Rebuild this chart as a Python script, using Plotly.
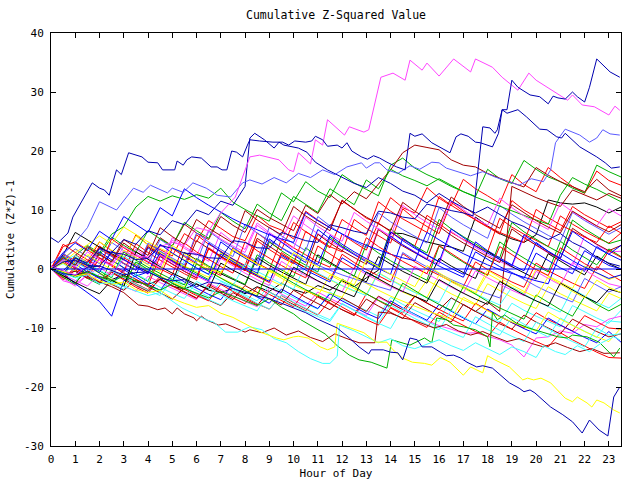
import plotly.graph_objects as go

# ---------------- data ----------------
HOURS = [0, 0.5, 1, 1.5, 2, 2.5, 3, 3.5, 4, 4.5, 5, 5.5, 6, 6.5, 7, 7.5,
         8, 8.5, 9, 9.5, 10, 10.5, 11, 11.5, 12, 12.5, 13, 13.5, 14, 14.5, 15, 15.5,
         16, 16.5, 17, 17.5, 18, 18.5, 19, 19.5, 20, 20.5, 21, 21.5, 22, 22.5, 23, 23.5]

X_TICKS = list(range(0, 24))
Y_TICKS = [-30, -20, -10, 0, 10, 20, 30, 40]

COL = {
    "red": "#ff0000", "green": "#00b000", "blue": "#0000ff", "magenta": "#ff44ff",
    "cyan": "#44ffff", "yellow": "#ffff00", "black": "#000000", "darkred": "#a00000",
    "darkblue": "#0000b0", "lightblue": "#5a5aff",
}

# half-hourly series (values at HOURS)
S01 = [0, 2.6, 1.4, 0.5, 3.9, 2.4, 1.6, 5.8, 4.1, 3.3, 2.2, 6.0, 4.6, 8.2, 6.9, 5.5,
       4.8, 9.1, 7.4, 6.6, 5.1, 9.8, 8.3, 7.0, 11.5, 10.2, 8.6, 7.8, 12.1, 10.4, 9.5, 13.8,
       12.0, 10.7, 15.2, 13.6, 12.4, 11.1, 16.0, 14.3, 13.1, 17.2, 15.5, 14.0, 12.8, 16.6, 15.0, 14.2]
S02 = [0, -1.2, 2.3, 4.0, 2.7, 5.9, 7.2, 10.5, 12.3, 11.5, 12.4, 11.8, 12.6, 12.0, 13.7, 11.3,
       10.1, 9.0, 8.1, 12.9, 11.4, 14.8, 13.2, 12.1, 16.0, 14.6, 13.5, 12.4, 17.6, 18.8, 17.1, 16.0,
       15.1, 14.0, 13.1, 12.3, 16.9, 15.3, 14.5, 18.4, 16.9, 15.6, 14.8, 13.7, 12.9, 17.6, 16.5, 15.6]
S03 = [0, 1.4, 0.2, -0.8, 2.6, 1.2, 4.4, 2.9, 1.8, 5.3, 3.9, 7.6, 6.1, 5.0, 8.9, 7.4,
       6.2, 10.1, 8.7, 7.6, 6.5, 10.8, 9.4, 12.6, 11.0, 13.1, 11.9, 14.4, 16.8, 19.7, 21.0, 20.6,
       20.2, 18.5, 17.6, 17.3, 16.2, 15.4, 14.6, 13.9, 17.2, 15.9, 14.8, 13.9, 13.1, 15.2, 13.4, 12.4]
S04 = [0, -0.6, -1.1, -0.4, -1.3, -1.8, -1.0, -2.2, -2.6, -1.8, -2.9, -3.4, -2.5, -3.6, -4.0, -3.3,
       -4.2, -3.0, -3.8, -2.4, -3.5, -4.1, -2.8, -3.6, -2.0, -3.0, -1.5, -0.2, 6.1, 6.0, 5.3, 4.6,
       4.1, 3.7, 3.0, 8.8, 7.3, 6.0, 5.1, 4.5, 5.8, 11.7, 11.2, 11.0, 11.2, 10.5, 9.5, 10.5]
S05 = [0, 2.4, 1.1, 0.2, 3.7, 2.3, 1.0, -0.2, 4.1, 2.6, 1.4, 0.3, 5.8, 4.2, 3.0, 1.7,
       0.6, 6.1, 4.6, 3.2, 7.9, 6.3, 5.1, 3.8, 2.9, 8.4, 6.9, 5.6, 4.4, 10.2, 8.5, 7.2,
       6.0, 11.3, 9.8, 8.3, 7.1, 5.9, 11.6, 10.0, 8.8, 7.6, 6.5, 10.6, 9.2, 8.1, 7.0, 8.0]
S06 = [0, -1.3, 2.4, 1.2, 4.6, 3.1, 1.9, 0.8, -0.3, -1.2, 3.5, 2.1, 0.9, -0.1, -1.1, 3.6,
       2.2, 1.0, -0.1, 5.0, 3.6, 2.4, 1.2, 0.3, 5.9, 4.5, 3.2, 7.8, 6.3, 5.0, 3.9, 9.1,
       7.6, 6.2, 5.0, 3.9, 2.9, 8.6, 7.1, 5.9, 4.8, 3.8, 9.0, 7.6, 6.4, 5.3, 4.4, 6.1]
S07 = [0, 1.1, -0.4, -1.6, -2.6, 1.5, 0.2, -1.0, -2.1, 3.0, 1.6, 0.4, -0.7, -1.8, 2.8, 1.4,
       0.2, -1.0, 4.6, 3.1, 1.8, 0.6, -0.5, 5.4, 3.9, 2.6, 1.4, 0.3, 6.8, 5.2, 3.9, 2.7,
       8.4, 6.8, 5.5, 4.2, 3.0, 1.9, 7.9, 6.3, 5.0, 3.8, 2.7, 8.3, 6.8, 5.5, 4.3, 4.9]
S08 = [0, -1.6, -2.9, -1.0, 1.8, 0.5, -0.7, 3.4, 1.9, 0.7, 5.3, 3.8, 2.5, 1.3, 6.2, 4.6,
       3.3, 7.8, 6.2, 4.8, 9.0, 7.4, 6.0, 4.7, 3.6, 2.5, 1.5, 6.9, 5.4, 4.1, 2.9, 1.8,
       0.8, 6.4, 4.9, 3.6, 2.4, 1.3, 0.3, 5.5, 4.0, 2.7, 1.6, 0.6, 5.6, 4.1, 2.9, 3.0]
S09 = [0, 1.7, 0.3, -0.9, 2.9, 1.5, 0.2, -1.0, 3.6, 2.1, 0.8, -0.4, -1.5, 4.4, 2.9, 1.6,
       0.4, -0.7, 5.1, 3.6, 2.3, 1.1, 6.7, 5.1, 3.7, 2.4, 1.2, 0.1, -0.9, 5.2, 3.7, 2.4,
       1.2, 0.1, -0.9, 4.6, 3.1, 1.9, 0.7, -0.3, 4.5, 3.0, 1.7, 0.6, -0.4, 3.8, 2.5, 1.5]
S10 = [0, -1.1, -2.0, -0.4, -1.6, -2.7, -0.6, -1.8, -2.9, -3.9, -1.4, -2.6, -3.7, -4.7, -2.1, -3.3,
       -4.4, -5.4, -2.6, -3.8, -4.9, -5.9, -6.8, -3.9, -5.1, -6.1, -7.1, -8.0, -4.8, -6.0, -7.0, -8.0,
       -8.9, -4.9, -6.1, -7.1, -8.1, -9.0, -5.8, -7.0, -8.0, -8.9, -9.8, -6.2, -7.3, -8.3, -9.2, -7.0]
S11 = [0, 1.8, 3.4, 2.1, 4.6, 3.2, 2.0, 5.6, 4.1, 2.8, 1.6, 0.5, -0.5, -1.4, 2.7, 1.4,
       0.2, -0.9, -1.9, -2.8, 1.5, 0.2, -0.9, -1.9, -2.9, -3.8, -0.6, -1.8, -2.9, -3.9, -4.8, -1.9,
       -3.1, -4.2, -5.2, -6.1, -2.5, -3.7, -4.8, -5.8, -6.7, -3.0, -4.2, -5.2, -6.2, -7.1, -4.1, -5.0]
S12 = [0, 2.4, 6.2, 4.9, 3.7, 2.6, 1.5, 0.5, -0.5, -1.4, -2.2, 2.8, 1.5, 0.3, -0.8, -1.8,
       -2.7, 1.9, 0.6, -0.5, -1.6, -2.6, 2.4, 1.1, -0.1, -1.2, -2.2, 2.1, 0.8, -0.4, -1.4, -2.4,
       1.8, 0.5, -0.6, -1.6, 3.0, 1.6, 0.4, -0.7, -1.7, 2.6, 1.3, 0.1, -1.0, 2.2, 0.9, 0.0]
S13 = [0, 3.8, 4.6, 3.2, 1.9, 0.7, -0.4, 4.3, 2.8, 1.5, 0.3, -0.8, -1.8, 3.6, 2.2, 0.9,
       -0.2, -1.3, -2.3, 2.8, 1.4, 0.2, -0.9, -1.9, 2.5, 1.1, -0.1, -1.2, -2.2, 2.6, 1.2, 0.0,
       -1.1, -2.1, -3.0, 1.2, -0.1, -1.2, -2.2, -3.1, 1.0, -0.3, -1.4, -2.4, -3.3, 0.4, -0.8, -2.0]
S14 = [0, -0.9, 2.0, 0.8, -0.4, -1.5, 2.9, 1.5, 0.3, -0.8, -1.8, -2.7, 1.8, 0.5, -0.6, -1.6,
       -2.6, 2.4, 1.0, -0.2, -1.3, 3.6, 2.1, 0.9, -0.2, -1.2, 4.2, 2.7, 1.4, 0.2, -0.9, -1.9,
       3.9, 2.4, 1.1, -0.1, -1.1, 4.6, 3.1, 1.8, 0.6, -0.5, 4.7, 3.2, 1.9, 0.7, 3.4, 2.1]
S15 = [0, -1.0, -2.0, -2.9, -0.8, -1.9, -2.9, -3.8, -1.2, -2.3, -3.3, -4.3, -5.2, -2.4, -3.5, -4.5,
       -5.5, -6.4, -3.2, -4.3, -5.3, -6.3, -3.9, -5.0, -6.0, -7.0, -7.9, -4.8, -5.9, -6.9, -7.9, -8.8,
       -9.6, -10.2, -10.9, -10.8, -11.4, -12.0, -12.9, -14.9, -11.7, -11.5, -10.5, -10.9, -9.4, -9.8, -8.5, -8.0]
S16 = [0, -1.5, 0.2, -1.2, -2.5, -0.6, -1.9, -3.1, -4.1, -1.6, -2.9, -4.0, -5.0, -2.6, -3.8, -4.9,
       -5.9, -3.1, -4.3, -5.4, -6.4, -3.6, -4.8, -5.9, -6.9, -7.8, -4.2, -5.4, -6.5, -7.5, -4.6, -5.8,
       -6.9, -7.9, -8.8, -5.8, -7.0, -8.1, -9.1, -10.0, -7.4, -8.6, -9.6, -10.5, -7.9, -9.0, -10.0, -10.2]
S17 = [0, -1.2, -2.3, -0.3, -1.5, -2.6, -3.6, -1.8, -3.0, -4.1, -5.1, -3.2, -4.3, -5.3, -6.2, -4.0,
       -5.1, -6.1, -3.9, -5.0, -6.1, -7.1, -4.6, -5.8, -6.9, -7.9, -5.1, -6.3, -7.4, -8.4, -5.7, -6.9,
       -8.0, -9.0, -6.0, -7.2, -8.3, -9.3, -10.2, -7.8, -9.0, -10.0, -11.0, -8.5, -9.6, -10.6, -11.5, -11.0]
S18 = [0, 1.4, 0.1, -1.1, -2.2, -0.2, -1.4, -2.5, -3.5, -1.2, -2.4, -3.5, -4.5, -5.4, -2.6, -3.8,
       -4.9, -5.9, -6.8, -4.5, -5.7, -6.8, -7.8, -5.3, -6.5, -7.6, -8.6, -9.5, -6.6, -7.8, -8.9, -9.9,
       -7.3, -8.5, -9.6, -10.6, -11.5, -9.0, -10.2, -11.3, -12.3, -13.2, -10.8, -12.0, -13.1, -14.1, -15.0, -15.1]
S19 = [0, 2.2, 0.8, -0.5, -1.6, -2.6, -0.1, -1.4, -2.6, -3.6, -0.9, -2.2, -3.3, -4.3, -5.2, -2.5,
       -3.7, -4.8, -5.8, -3.4, -4.6, -5.7, -6.7, -4.2, -5.4, -6.5, -7.5, -8.4, -5.4, -6.6, -7.7, -8.7,
       -6.0, -7.2, -8.3, -9.3, -6.8, -8.0, -9.1, -10.1, -11.0, -8.3, -9.5, -10.6, -11.6, -12.5, -10.6, -12.4]
S20 = [0, 1.6, 3.4, 2.1, 0.9, 4.5, 3.1, 1.9, 0.8, 5.0, 3.6, 2.3, 1.1, 6.4, 4.9, 3.6,
       2.4, 1.3, 7.1, 5.6, 4.3, 3.1, 8.9, 7.3, 5.9, 4.7, 3.6, 9.5, 8.0, 6.7, 5.5, 4.4,
       10.4, 8.8, 7.5, 6.3, 5.2, 10.8, 9.3, 8.0, 6.8, 5.7, 4.7, 9.6, 8.2, 7.0, 5.9, 7.0]
S21 = [0, -0.9, 1.4, 0.2, 3.4, 2.1, 0.9, -0.2, 3.8, 2.4, 1.2, 0.1, 4.8, 3.4, 2.1, 1.0,
       -0.1, 5.2, 3.8, 2.5, 1.3, 0.2, 5.9, 4.4, 3.1, 1.9, 0.8, 6.7, 5.2, 3.9, 2.7, 1.6,
       7.2, 5.7, 4.4, 3.2, 2.1, 1.1, 6.8, 5.3, 4.0, 2.8, 1.8, 6.9, 5.5, 4.2, 3.1, 4.0]
S22 = [0, 0.9, -0.4, -1.5, -2.5, -0.3, -1.5, -2.6, -3.6, -4.5, -1.9, -3.1, -4.2, -5.2, -6.1, -3.5,
       -4.7, -5.8, -6.8, -4.4, -5.6, -6.7, -7.7, -8.6, -5.8, -7.0, -8.1, -9.1, -6.1, -7.3, -8.4, -9.4,
       -10.3, -7.0, -8.2, -9.3, -10.3, -11.2, -8.2, -9.4, -10.5, -11.5, -8.3, -9.5, -10.6, -11.6, -8.8, -9.0]
S23 = [0, -1.3, 1.6, 0.4, -0.7, -1.8, -2.7, 1.1, -0.1, -1.2, -2.2, -3.1, 0.8, -0.4, -1.5, -2.5,
       -3.4, -4.3, -0.4, -1.6, -2.7, -3.7, -4.6, -1.0, -2.2, -3.3, -4.3, -0.6, -1.8, -2.9, -3.9, -4.8,
       -1.0, -2.2, -3.3, -4.3, -0.8, -2.0, -3.1, -4.1, 0.0, -1.2, -2.3, -3.3, 0.5, -0.7, -1.8, -1.0]
S24 = [0, -0.8, -2.5, -4.0, -5.5, -8.0, -2.0, -1.2, -0.5, 2.6, 1.3, 0.1, -1.0, -2.0, 2.5, 1.2,
       0.0, -1.1, -2.1, 2.3, 1.0, -0.2, -1.2, -2.2, 1.9, 0.6, -0.6, -1.6, 5.6, 4.1, 2.8, 1.6,
       0.5, -0.5, -1.4, 2.9, 1.6, 0.4, -0.6, -1.6, 2.7, 1.4, 0.2, -0.8, 3.1, 1.8, 0.6, 0.0]
S25 = [0, 2.0, 0.7, 3.6, 2.3, 5.4, 4.0, 2.8, 6.5, 5.1, 3.9, 7.9, 6.5, 5.2, 9.6, 8.1,
       6.8, 11.0, 9.5, 8.2, 12.3, 10.9, 9.6, 13.6, 12.2, 10.9, 15.1, 13.6, 16.9, 15.8, 15.0, 14.1,
       15.3, 14.2, 13.1, 12.2, 11.4, 10.7, 9.9, 9.1, 8.3, 7.6, 12.5, 15.5, 14.4, 13.5, 12.4, 11.4]
S26 = [0, -1.8, -0.2, -1.6, 1.9, 0.5, -0.7, -1.8, -2.8, 2.2, 0.8, -0.4, -1.5, 3.4, 2.0, 0.8,
       -0.3, 4.8, 3.3, 2.0, 0.9, 6.4, 4.9, 3.6, 8.4, 7.0, 5.7, 11.4, 9.8, 8.5, 7.3, 6.2,
       12.3, 10.8, 9.5, 8.3, 7.2, 6.2, 5.3, 4.5, 10.1, 8.7, 7.5, 6.4, 5.4, 4.5, 7.3, 6.1]
S27 = [0, 1.1, -0.2, -1.3, -2.3, -0.5, -1.7, -2.8, -3.8, -1.6, -2.8, -3.9, -4.9, -2.9, -4.1, -5.2,
       -2.8, -4.0, -5.1, -6.1, -3.6, -4.8, -5.9, -6.9, -4.9, -6.1, -7.2, -4.6, -5.8, -6.9, -4.6, -5.8,
       -6.9, -4.9, -6.1, -7.2, -5.6, -7.2, 14.0, 13.0, 12.1, 11.3, 10.6, 13.4, 12.5, 11.7, 12.8, 12.0]
S28 = [0, 1.4, 2.3, 1.0, -0.2, -1.3, 2.2, 0.9, -0.3, -1.4, -2.4, 1.4, 0.1, -1.0, -2.0, -2.9,
       0.9, -0.4, -1.5, -2.5, -3.4, 0.6, -0.7, -1.8, -2.8, -3.7, -4.5, -0.7, -1.9, -3.0, -4.0, -4.9,
       -5.7, -1.9, -3.1, -4.2, -5.2, -6.1, -3.1, -4.3, -5.4, -6.4, -7.3, -3.4, -4.6, -5.7, -6.6, -5.0]
S29 = [0, 1.2, 2.8, 4.1, 5.6, 4.3, 7.1, 5.8, 4.6, 3.5, 2.5, 1.6, 0.8, 0.0, -0.7, 3.1,
       1.9, 0.8, -0.2, -1.1, -1.9, -2.7, -3.4, -4.1, -4.8, -1.3, -2.5, -3.6, -4.6, -5.5, -6.3, -7.1,
       -7.8, -8.5, -4.8, -6.0, -7.1, -8.1, -9.0, -9.8, -10.5, -7.3, -8.5, -9.6, -10.6, -11.5, -12.3, -10.0]
S30 = [0, -2.0, -2.6, -1.0, 0.2, -1.0, 1.6, 0.3, -0.9, 2.4, 1.1, -0.1, -1.2, -2.2, 1.8, 0.5,
       -0.7, -1.8, -2.8, 1.3, 0.0, -1.1, -2.1, -3.0, -3.9, 0.3, -0.9, -2.0, -3.0, -3.9, 0.5, -0.8,
       -2.0, -3.1, -4.1, -0.3, -1.5, -2.6, -3.6, -4.5, -0.4, -1.6, -2.7, 1.1, -0.2, -1.4, -2.5, -3.0]
S31 = [0, 2.6, 1.3, 0.1, 3.4, 2.1, 0.9, -0.2, 4.4, 3.0, 1.8, 0.7, 6.1, 4.6, 3.3, 2.1,
       7.6, 6.1, 4.8, 3.6, 2.5, 1.5, 0.6, -0.2, -1.0, -1.7, -2.4, -3.0, -3.6, 2.8, 1.5, 0.3,
       -0.8, -1.8, -2.7, -3.5, -4.2, -4.9, -0.6, -1.8, -2.9, -3.9, -4.8, -5.6, -1.6, -2.8, -3.9, -3.0]
S32 = [0, 2.8, 4.4, 3.1, 6.4, 5.0, 8.9, 7.5, 6.2, 10.4, 9.0, 13.6, 12.1, 10.8, 9.6, 8.5,
       7.5, 6.6, 5.8, 5.1, 4.5, 9.6, 8.2, 7.0, 5.9, 4.9, 4.0, 3.2, 2.5, 1.9, 1.4, 6.2,
       4.9, 3.7, 2.6, 1.6, 0.7, -0.1, -0.8, -1.4, -2.0, -2.5, 2.7, 1.4, 0.3, -0.7, -1.6, -1.0]
S33 = [0, 1.5, 0.3, 2.9, 1.6, 0.5, 3.8, 2.5, 1.3, 0.2, 4.9, 3.5, 2.3, 6.6, 5.1, 3.9,
       2.8, 7.4, 5.9, 4.6, 3.5, 8.8, 7.2, 5.9, 4.7, 9.6, 8.1, 6.8, 5.6, 10.8, 9.2, 7.9,
       6.7, 11.5, 10.0, 8.6, 7.4, 12.0, 10.4, 9.0, 7.8, 6.7, 11.2, 9.7, 8.4, 7.3, 10.2, 9.0]
S34 = [0, -1.4, -2.6, 0.6, -0.7, -1.9, -2.9, 1.2, -0.1, -1.3, -2.4, -3.4, 0.9, -0.4, -1.6, -2.7,
       -3.7, -4.6, 0.1, -1.2, -2.4, -3.5, -4.5, -5.4, -1.7, -3.0, -4.2, -5.3, -6.3, -2.4, -3.7, -4.9,
       -6.0, -7.0, -3.0, -4.3, -5.5, -6.6, -7.6, -8.5, -4.4, -5.7, -6.9, -8.0, -4.7, -6.0, -7.1, -6.0]
S35 = [0, 4.2, 2.8, 1.5, 0.3, 5.1, 3.6, 2.3, 1.1, 0.0, -1.0, 4.4, 2.9, 1.6, 0.4, -0.7,
       4.6, 3.1, 1.8, 0.6, -0.5, -1.5, 3.9, 2.5, 1.2, 0.0, 5.3, 3.8, 2.5, 1.3, 0.2, -0.8,
       4.0, 2.6, 1.3, 0.1, -1.0, 3.8, 2.4, 1.1, -0.1, -1.1, 3.6, 2.2, 0.9, -0.2, 3.1, 2.0]
S36 = [0, -1.0, 1.9, 0.6, -0.6, 3.0, 1.6, 0.3, -0.8, 4.2, 2.7, 1.4, 0.2, -0.9, 4.6, 3.1,
       1.8, 0.6, 6.0, 4.5, 3.1, 1.9, 0.8, 5.7, 4.2, 2.9, 1.7, 0.6, 6.3, 4.8, 3.5, 2.3,
       1.2, 6.8, 5.3, 3.9, 2.7, 1.6, 0.6, 5.8, 4.3, 3.0, 1.8, 6.4, 4.9, 3.6, 2.5, 4.0]
S37 = [0, -1.2, -2.3, -3.3, -4.2, -1.9, -3.0, 2.9, 1.6, 0.4, -0.7, -1.7, -2.6, -3.4, 1.0, -0.2,
       -1.3, -2.3, -3.2, -4.0, 0.3, -0.9, -2.0, -3.0, -3.9, -4.7, -0.5, -1.7, -2.8, -3.8, -4.7, -5.5,
       -1.8, -3.0, -4.1, -5.1, -6.0, -2.1, -3.3, -4.4, -5.4, -6.3, -2.4, -3.6, -4.7, -5.7, -3.4, -4.0]
S38 = [0, -0.9, 1.2, -0.1, -1.3, -2.4, -3.4, -0.8, -2.0, -3.1, -4.1, -5.0, -2.1, -3.3, -4.4, -5.4,
       -6.3, -7.1, -3.9, -5.1, -6.2, -7.2, -8.1, -8.9, -5.9, -7.1, -8.2, -9.2, -10.1, -6.6, -7.8, -8.9,
       -9.9, -10.8, -11.6, -8.1, -9.3, -10.4, -11.4, -12.3, -9.0, -10.2, -11.3, -12.3, -13.2, -10.0, -11.2, -11.0]
S39 = [0, 1.9, 0.6, 3.8, 2.4, 1.2, 5.0, 3.6, 2.3, 7.0, 5.5, 4.2, 8.4, 6.9, 5.6, 4.4,
       9.9, 8.3, 7.0, 5.8, 10.6, 9.0, 7.7, 6.5, 11.7, 10.1, 8.8, 7.6, 6.5, 11.3, 9.8, 8.5,
       7.3, 12.2, 10.6, 9.2, 8.0, 6.9, 10.9, 9.5, 8.2, 7.1, 6.1, 9.8, 8.5, 7.3, 6.3, 7.5]
S40 = [0, 1.0, -0.3, 2.4, 1.1, -0.1, 3.2, 1.9, 0.7, -0.4, 4.0, 2.6, 1.4, 0.3, -0.7, 3.4,
       2.0, 0.8, -0.3, -1.3, 2.8, 1.5, 0.3, -0.8, -1.8, -2.7, 1.6, 0.3, -0.9, -2.0, -3.0, 0.6,
       -0.7, -1.9, -3.0, -4.0, -0.2, -1.5, -2.7, -3.8, -4.8, -1.3, -2.6, -3.8, -4.9, -1.9, -3.1, -4.0]

HALF_HOURLY = [S01, S02, S03, S04, S05, S06, S07, S08, S09, S10, S11, S12, S13, S14, S15, S16,
               S17, S18, S19, S20, S21, S22, S23, S24, S25, S26, S27, S28, S29, S30, S31, S32,
               S33, S34, S35, S36, S37, S38, S39, S40]
HALF_HOURLY_COLORS = ["red", "green", "darkred", "black", "red", "red", "green", "magenta",
                      "blue", "cyan", "yellow", "black", "red", "green", "magenta", "red",
                      "darkred", "red", "blue", "lightblue", "darkred", "cyan", "yellow", "blue",
                      "green", "red", "darkred", "cyan", "yellow", "magenta", "lightblue", "blue",
                      "magenta", "green", "red", "blue", "black", "cyan", "darkred", "yellow"]

# irregularly sampled series: (hour, value)
M1 = [(0, 0.5), (0.5, -0.3), (1, -1), (1.5, 0.5), (2, 1.5), (2.5, 1), (3, 3), (3.5, 2.2), (4, 2),
      (4.5, 3.8), (5, 4.5), (5.5, 4), (6, 7), (6.5, 6.5), (7, 9.5), (7.6, 12.2), (7.9, 15.6),
      (8.2, 19), (8.6, 19.3), (9.4, 18.5), (9.8, 16.8), (10.0, 16.5), (10.2, 19.7), (10.7, 17.8),
      (10.9, 21.9), (11.2, 21), (11.4, 25.3), (12.1, 22.7), (12.3, 24.1), (12.9, 23.2), (13.1, 23.6),
      (13.6, 32.5), (14.1, 33.2), (14.6, 32), (14.8, 35.4), (15.3, 33.7), (15.5, 34.9), (16.0, 32.7),
      (16.6, 35.6), (17.3, 33.4), (17.5, 35.6), (18.2, 34.2), (18.6, 32.5), (19.0, 31.2), (19.25, 30.3),
      (19.7, 33.2), (20.0, 32), (21.3, 28.6), (21.5, 29.5), (21.9, 27.8), (22.4, 27.5), (23.0, 26.1),
      (23.25, 27.6), (23.45, 26.9)]
D1 = [(0, 0), (0.5, 1.2), (1, 1.5), (1.5, 0.6), (2, 0.5), (2.5, 2.8), (3, 2.5), (3.5, 1.6), (4, 1.8),
      (4.5, 4.0), (5, 3.5), (5.5, 2.7), (6, 2.5), (6.5, 1.9), (7, 1.8), (7.5, 4.8), (8, 4.5), (8.5, 3.6),
      (9, 3.5), (9.5, 6.2), (10, 5.5), (10.5, 4.8), (11, 4.5), (11.5, 7.5), (12, 7), (12.5, 6.4), (13, 6),
      (13.5, 9.8), (14, 9.5), (14.5, 8.8), (15, 8.5), (15.5, 11), (16, 10.5), (16.5, 9.9), (17, 9.5),
      (17.4, 9), (17.8, 24.1), (18.1, 23.9), (18.3, 23), (18.4, 23.6), (18.6, 27), (18.8, 27), (19.0, 32),
      (19.25, 30.8), (19.75, 29.5), (20.15, 29.2), (20.5, 28), (20.7, 29.3), (20.9, 29), (21.2, 28.8),
      (21.5, 30), (21.7, 29.2), (22.0, 28.3), (22.2, 30.8), (22.5, 35.6), (22.75, 34.6), (23.05, 33.4),
      (23.45, 32.5)]
D2 = [(0, 5.3), (0.3, 4.5), (0.7, 6.1), (0.9, 8.8), (1.7, 14.6), (2, 13.7), (2.2, 13.4), (2.4, 12.5),
      (2.7, 16.8), (2.9, 16), (3.2, 19.7), (3.75, 19), (4, 18.1), (4.4, 18), (4.6, 16.8), (5.1, 16.8),
      (5.2, 18.3), (5.45, 17.6), (5.6, 18.5), (5.8, 19), (6.2, 18.8), (6.6, 17.3), (6.85, 17.3),
      (7.05, 16.8), (7.25, 16.8), (7.45, 20), (7.65, 19.8), (7.9, 19), (8.1, 21), (8.2, 21.9),
      (8.6, 21.7), (9.15, 21.5), (9.55, 21.5), (9.8, 21), (10.05, 21.7), (10.5, 21.5), (10.75, 21.7),
      (10.9, 22.5), (11.2, 21.9), (11.4, 20.8), (11.8, 21), (12, 20.5), (12.2, 21.4), (12.4, 20),
      (12.8, 19), (13.05, 18.6), (13.3, 19.2), (13.55, 18.8), (13.85, 18.1), (14.25, 17.3), (14.6, 16.8),
      (14.8, 23), (15, 22.5), (15.3, 22.9), (15.7, 21.4), (16.1, 20.5), (16.45, 19.7), (16.7, 22.4),
      (16.9, 22.9), (17.2, 22.5), (17.5, 21.5), (17.7, 21.4), (18.2, 20.7), (18.45, 23), (18.6, 27),
      (18.8, 26.4), (19.25, 27), (19.6, 25.8), (20.15, 23.7), (20.45, 23.6), (20.85, 22.4),
      (21.05, 22.2), (21.2, 23), (21.8, 20.7), (22.5, 19), (22.85, 18), (23.1, 17.1), (23.45, 17.3)]
D3 = [(0, 0.5), (0.5, -0.3), (1, 1.8), (1.5, 1.0), (2, 3.5), (2.5, 2.8), (3, 5.0), (3.5, 4.2), (4, 6.5),
      (4.5, 5.8), (5, 8.2), (5.5, 7.5), (6, 10.0), (6.5, 9.2), (7, 11.5), (7.5, 10.8), (8.0, 14.0),
      (8.2, 22.2), (8.4, 23), (8.8, 21.9), (9.2, 20.5), (9.4, 21.5), (9.6, 21), (10.2, 20.5),
      (10.55, 19.8), (10.9, 18.1), (11.4, 16.8), (12, 15.5), (12.5, 14.5), (13, 13.8), (13.5, 15.5),
      (14, 14.5), (14.5, 13.2), (15, 12.5), (15.5, 11.2), (16, 12.8), (16.5, 11.5), (17, 10.4),
      (17.5, 9.5), (18, 10.5), (18.5, 9.2), (19, 8), (19.5, 7.2), (20, 6), (20.5, 5), (21, 6),
      (21.5, 4.5), (22, 3.5), (22.5, 2), (23, 1), (23.45, 0.5)]
LB1 = [(0, 1), (0.5, 2.5), (1, 4.5), (1.5, 7), (2, 11.4), (2.7, 10), (3.4, 13.7), (3.8, 13), (4.1, 14.2),
       (4.8, 12.9), (5, 13.7), (5.45, 13), (5.85, 14.6), (6.4, 13.7), (6.85, 12.5), (7.4, 12.2),
       (7.9, 14.6), (8.2, 15.1), (8.7, 14.4), (9.2, 15.5), (9.7, 14.6), (10.2, 16.2), (10.7, 15.5),
       (11.2, 16.8), (11.7, 16), (12.2, 17.3), (12.8, 18), (13, 17.1), (13.35, 18), (13.55, 18),
       (13.85, 16.8), (14.3, 16.2), (14.8, 17.5), (15.2, 16.9), (15.7, 18.1), (16, 18), (16.3, 17.1),
       (16.8, 16.5), (17.3, 15.8), (17.8, 16.5), (18.3, 15.6), (18.8, 14.9), (19.3, 14.2), (19.8, 15.3),
       (20.3, 14.8), (20.6, 16.8), (20.8, 21.4), (21.2, 23.7), (21.5, 23.2), (21.8, 22.7), (22.2, 21.5),
       (22.5, 22.2), (22.75, 23.6), (23.05, 22.9), (23.45, 22.7)]
DB_LOW = [(0, 0), (0.5, -0.8), (1, -1), (1.5, 0.3), (2, 0.5), (2.5, -0.3), (3, -1), (3.5, -0.6),
          (4, -0.5), (4.5, -1.5), (5, -2), (5.5, -1.8), (6, -3), (6.5, -2.2), (7, -2.5), (7.5, -3.3),
          (8, -4), (8.5, -4.6), (9, -5), (9.5, -5.8), (10, -6.5), (10.5, -7.4), (11, -8.5), (11.4, -9.3),
          (11.8, -10), (12.3, -11.7), (12.7, -13.2), (13.1, -14.4), (13.2, -13.7), (13.7, -13.7),
          (14, -14.1), (14.3, -14.2), (14.5, -15.4), (14.8, -11.7), (15.1, -12), (15.3, -13.2),
          (15.7, -13.2), (16.05, -14.1), (16.3, -14.7), (16.6, -14.6), (16.9, -15.1), (17.15, -15.8),
          (17.4, -16.3), (17.55, -16.6), (17.8, -16.4), (18.2, -16.8), (18.9, -19.3), (19.3, -20.2),
          (19.5, -20.8), (19.75, -20.5), (19.95, -21), (20.6, -23.4), (21.1, -24.7), (21.3, -25.3),
          (21.5, -25.9), (21.9, -27.8), (22.2, -25.6), (22.6, -27.3), (22.96, -28.3), (23.2, -21.7),
          (23.45, -20)]
Y_LOW = [(0, 0.3), (0.5, -0.5), (1, -1.2), (1.5, -0.8), (2, -2), (2.5, -2.6), (3, -2.2), (3.5, -3.5),
         (4, -4), (4.5, -3.6), (5, -5), (5.5, -5.8), (6, -6.5), (6.5, -6.2), (7, -7.5), (7.5, -8.2),
         (8.2, -9.8), (8.7, -10.8), (9.3, -11.7), (9.6, -12), (10, -11.5), (10.2, -11.4), (10.6, -11.7),
         (11.1, -13.2), (11.4, -13.7), (11.7, -13.2), (11.8, -9.2), (12.2, -9.8), (12.9, -10.8),
         (13.4, -12.4), (13.85, -12.4), (14.1, -13.7), (14.5, -15.1), (14.9, -15.8), (15.4, -16),
         (15.7, -16.3), (16.05, -15), (16.45, -15.8), (17, -18), (17.3, -16.6), (17.8, -17.6),
         (18, -14.7), (18.3, -15.4), (18.9, -16.6), (19.45, -18.8), (19.65, -18.5), (19.9, -18.8),
         (20.2, -18.5), (20.6, -19.3), (21.2, -21.9), (21.5, -22.5), (21.7, -21.7), (22.1, -22.7),
         (22.3, -23.4), (22.5, -22.2), (22.8, -22.7), (23.2, -23.9), (23.45, -24.4)]
CY_LOW = [(0, 0), (0.5, -0.7), (1, -1.5), (1.5, -1.0), (2, -2.5), (2.5, -2.2), (3, -3), (3.5, -3.8),
          (4, -4.5), (4.5, -4.0), (5, -5.5), (5.4, -6.6), (6, -7.8), (6.4, -8.6), (6.7, -9), (7, -10),
          (7.2, -10.7), (7.7, -10.7), (8.2, -9.8), (8.7, -10.3), (9.2, -11.8), (9.7, -12.5), (10.2, -14),
          (10.7, -15.2), (11.2, -16), (11.5, -16), (11.8, -14.8), (11.9, -9.5), (12.5, -10.5),
          (13, -11.5), (13.5, -12.5), (14, -11.8), (14.5, -13), (15, -13.5), (15.5, -12.8), (16, -12),
          (16.5, -13), (17, -13.8), (17.5, -12.5), (18, -13.5), (18.5, -14.5), (19, -13.2), (19.5, -14),
          (20, -15), (20.3, -13), (20.8, -14), (21.2, -14.5), (21.7, -13), (22.2, -14), (22.7, -12.5),
          (23.2, -11.5), (23.45, -12)]
G_LOW = [(0, 0.2), (0.5, -0.6), (1, -1.4), (1.5, -0.5), (2, -1.3), (2.5, -2.1), (3, -1.2), (3.5, -2.0),
         (4, -2.8), (4.5, -3.6), (5, -2.5), (5.5, -3.3), (6, -4.1), (6.5, -4.9), (7, -3.8), (7.5, -4.6),
         (8, -5.4), (8.5, -6.2), (9, -5.0), (9.5, -6.5), (10, -7.6), (10.3, -8.6), (10.8, -9.8),
         (11.3, -11), (11.8, -13), (12.3, -14.6), (12.7, -15.4), (13.2, -15.8), (13.85, -16.8),
         (14.05, -12), (14.8, -12.9), (15.4, -11.7), (15.7, -12.5), (15.9, -8.3), (16.3, -8.6),
         (16.6, -9.5), (17, -9.8), (17.5, -10.3), (18, -11.5), (18.1, -13.2), (18.2, -7.3), (18.4, -8.6),
         (18.7, -7.8), (19.2, -9.2), (19.7, -10), (20.3, -10.7), (20.9, -11.5), (21.3, -11.7),
         (21.5, -11.2), (22.1, -11.5), (22.6, -12.4), (23.2, -14.9), (23.45, -13.4)]
DR_LOW = [(0, 0), (0.5, -0.8), (1, -0.4), (1.5, -1.5), (2, -2.2), (2.5, -3.0), (3, -4.0), (3.4, -5.3),
          (3.6, -6.1), (4, -6.3), (4.4, -6.9), (4.7, -6.6), (5, -7.6), (5.2, -6.6), (5.5, -7.6),
          (5.9, -8.3), (6, -8.8), (6.2, -8), (6.4, -8.6), (6.9, -9.5), (7.2, -9.3), (7.5, -9.8),
          (7.9, -10.5), (8, -10.7), (8.2, -10.3), (8.7, -10.8), (9.2, -10), (9.7, -11.2), (10.2, -10.5),
          (10.7, -11.6), (11.2, -12.3), (11.7, -11), (12.2, -11.8), (12.7, -12.5), (13.35, -12.5),
          (13.5, -7.3), (14, -7.5), (14.5, -8.3), (14.9, -8.6), (15.3, -9.2), (15.8, -10), (16.3, -9.4),
          (16.8, -10.5), (17.3, -11.2), (17.8, -10.6), (18.3, -11.5), (18.8, -12.3), (19.3, -11.8),
          (19.8, -12.6), (20.3, -13.2), (20.8, -12.5), (21.3, -13.3), (21.8, -14), (22.3, -13.5),
          (22.8, -14.3), (23.45, -14.2)]

IRREGULAR = [DR_LOW, G_LOW, CY_LOW, Y_LOW, D3, LB1, DB_LOW, M1, D2, D1]
IRREGULAR_COLORS = ["darkred", "green", "cyan", "yellow", "darkblue", "lightblue", "darkblue",
                    "magenta", "darkblue", "darkblue"]

ZERO_LINE = [(0, 0), (23.5, 0)]

FONT = "DejaVu Sans Mono"

# ---------------- figure ----------------
fig = go.Figure()

for vals, c in zip(HALF_HOURLY, HALF_HOURLY_COLORS):
    fig.add_trace(go.Scatter(x=HOURS[:len(vals)], y=vals, mode="lines",
                             line=dict(color=COL[c], width=1), hoverinfo="skip"))
for pts, c in zip(IRREGULAR, IRREGULAR_COLORS):
    fig.add_trace(go.Scatter(x=[p[0] for p in pts], y=[p[1] for p in pts], mode="lines",
                             line=dict(color=COL[c], width=1), hoverinfo="skip"))
fig.add_trace(go.Scatter(x=[p[0] for p in ZERO_LINE], y=[p[1] for p in ZERO_LINE], mode="lines",
                         line=dict(color=COL["blue"], width=1), hoverinfo="skip"))

axis_common = dict(
    ticks="inside", ticklen=5, tickwidth=1, tickcolor="black",
    showline=True, linecolor="black", linewidth=1, mirror="ticks",
    showgrid=False, zeroline=False, automargin=False,
    tickfont=dict(family=FONT, size=11, color="black"),
)

fig.update_layout(
    width=640, height=480,
    margin=dict(l=51, r=19, t=33, b=34),
    paper_bgcolor="white", plot_bgcolor="white",
    showlegend=False,
    font=dict(family=FONT, size=11, color="black"),
    title=dict(text="Cumulative Z-Squared Value", x=0.5, xref="paper", xanchor="center",
               y=1 - 15 / 480, yref="container", yanchor="middle",
               font=dict(family=FONT, size=11.5, color="black")),
    xaxis=dict(range=[0, 23.5], tickvals=X_TICKS, ticktext=[str(t) for t in X_TICKS],
               ticklabelstandoff=3,
               title=dict(text="Hour of Day", standoff=6, font=dict(family=FONT, size=11)),
               **axis_common),
    yaxis=dict(range=[-30, 40], tickvals=Y_TICKS, ticktext=[str(t) for t in Y_TICKS],
               ticklabelstandoff=4,
               title=dict(text="Cumulative (Z*Z)-1", standoff=7, font=dict(family=FONT, size=11)),
               **axis_common),
)

fig.write_html("out.html")
